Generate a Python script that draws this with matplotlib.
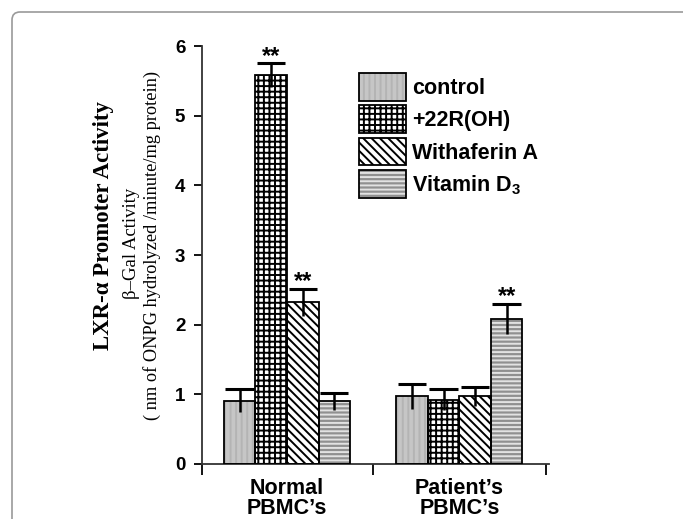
import matplotlib
matplotlib.use("Agg")

import numpy as np
import matplotlib.pyplot as plt
import matplotlib.patches as mpatches
from matplotlib.legend_handler import HandlerTuple

# данные
groups = ["Normal\nPBMC\u2019s", "Patient\u2019s\nPBMC\u2019s"]
series = ["control", "+22R(OH)", "Withaferin A", r"Vitamin D$_\mathbf{3}$"]
values = [[0.91, 0.97],
          [5.58, 0.92],
          [2.32, 0.97],
          [0.90, 2.08]]
errors = [[0.16, 0.18],
          [0.17, 0.15],
          [0.19, 0.14],
          [0.12, 0.22]]
stars = [[False, False],
         [True, False],
         [True, False],
         [False, True]]

# стиль каждой серии: заливка, цвет штриховки, штриховка
styles = [("#c6c6c6", "#b4b4b4", "|||"),
          ("white", "black", "+++"),
          ("white", "black", "\\\\\\\\"),
          ("#909090", "#e2e2e2", "----")]

plt.rcParams['font.family'] = ['Liberation Sans', 'DejaVu Sans']
plt.rcParams['mathtext.fontset'] = 'custom'
plt.rcParams['mathtext.rm'] = 'Liberation Sans'
plt.rcParams['mathtext.bf'] = 'Liberation Sans:bold'
plt.rcParams['hatch.linewidth'] = 1.4

fig = plt.figure(figsize=(6.83, 5.19), dpi=100)
ax = fig.add_axes([202/683, 1 - 464/519, 347/683, 418/519])

# рамка вокруг рисунка
frame = mpatches.FancyBboxPatch((0.12, -1.0), 10, 5.07 + 1.0,
                                boxstyle="round,pad=0,rounding_size=0.08",
                                transform=fig.dpi_scale_trans, fill=False,
                                edgecolor="#9a9a9a", linewidth=1.2, zorder=0)
fig.add_artist(frame)

x = np.arange(len(groups))
w = 0.183
handles = []
for i, name in enumerate(series):
    pos = x + (i - 1.5) * w
    fc, hc, hatch = styles[i]
    ax.bar(pos, values[i], w, color=fc, edgecolor=hc, hatch=hatch, linewidth=0, zorder=2)
    ax.bar(pos, values[i], w, fill=False, edgecolor="black", linewidth=1.3, zorder=3)
    err = np.array(errors[i])
    top = np.array(values[i]) + err
    ax.vlines(pos, np.array(values[i]) - err, top, color="black", linewidth=1.8, zorder=4)
    ax.hlines(top, pos - w * 0.45, pos + w * 0.45, color="black", linewidth=2.2, zorder=4)
    for j in range(len(groups)):
        if stars[i][j]:
            ax.annotate("**", (pos[j], top[j]), xytext=(0, -3), textcoords="offset points",
                        ha="center", va="bottom", fontsize=17, fontweight="bold")
    handles.append((mpatches.Patch(facecolor=fc, edgecolor=hc, hatch=hatch, linewidth=0),
                    mpatches.Patch(fill=False, edgecolor="black", linewidth=1.3)))

ax.set_ylim(0, 6)
ax.set_xlim(-0.493, 1.52)
ax.set_yticks(range(7))
ax.set_xticks([-0.493, 0.5, 1.5])
ax.set_xticklabels([])
ax.set_xticks(x, minor=True)
ax.set_xticklabels(groups, minor=True, fontsize=15.5, fontweight="bold", linespacing=0.95)
ax.tick_params(axis="x", which="minor", length=0, pad=10)
ax.tick_params(axis="x", which="major", length=8, width=1.3)
ax.tick_params(axis="y", length=6, width=1.3, labelsize=13.5, pad=6)
for t in ax.get_yticklabels():
    t.set_fontweight("bold")
for s in ["top", "right"]:
    ax.spines[s].set_visible(False)
for s in ["left", "bottom"]:
    ax.spines[s].set_linewidth(1.3)
    ax.spines[s].set_color("#333333")

# подписи оси y
fig.text(104/683, 1 - 226/519, "LXR-\u03b1 Promoter Activity", rotation=90,
         ha="center", va="center", family="Liberation Serif", fontweight="bold", fontsize=16.5)
fig.text(131/683, 1 - 243/519, "\u03b2\u2013Gal Activity", rotation=90,
         ha="center", va="center", family="Liberation Serif", fontsize=13.5)
fig.text(152/683, 1 - 246/519, "( nm of ONPG hydrolyzed /minute/mg protein)", rotation=90,
         ha="center", va="center", family="Liberation Serif", fontsize=13.2)

ax.legend(handles, series, loc="upper left", bbox_to_anchor=(359/683, 1 - 73/519),
          bbox_transform=fig.transFigure, frameon=False,
          prop={"weight": "bold", "size": 15.5},
          handlelength=2.2, handleheight=1.6, labelspacing=0.22, handletextpad=0.25,
          borderpad=0, borderaxespad=0,
          handler_map={tuple: HandlerTuple(ndivide=1)})

fig.savefig("out.png", dpi=100)
